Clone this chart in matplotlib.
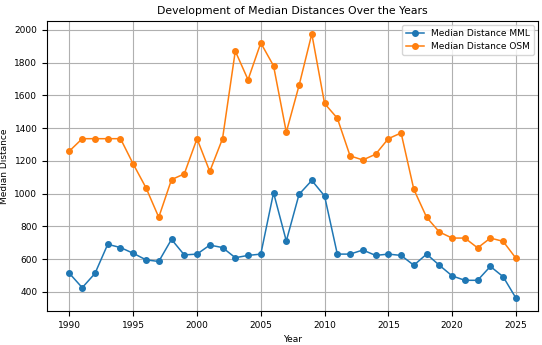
import matplotlib
matplotlib.use("Agg")
import matplotlib.pyplot as plt

years = list(range(1990, 2026))
mml = [512, 425, 512, 690, 670, 635, 595, 585, 720, 625, 630, 685, 670, 608, 622, 630,
       1005, 710, 995, 1080, 985, 630, 630, 655, 622, 630, 622, 562, 630, 562, 497, 470,
       470, 555, 492, 362]
osm = [1260, 1335, 1335, 1335, 1335, 1180, 1035, 855, 1085, 1120, 1335, 1135, 1335, 1870,
       1695, 1920, 1780, 1375, 1660, 1975, 1550, 1460, 1230, 1205, 1240, 1335, 1370, 1025,
       855, 765, 728, 728, 668, 728, 708, 605]

fig, ax = plt.subplots(figsize=(5.42, 3.45), dpi=100)
fs = 6.5
ax.plot(years, mml, marker='o', markersize=4, linewidth=1.1, label='Median Distance MML')
ax.plot(years, osm, marker='o', markersize=4, linewidth=1.1, label='Median Distance OSM')
ax.set_title('Development of Median Distances Over the Years', fontsize=7.8, pad=5)
ax.set_xlabel('Year', fontsize=fs)
ax.set_ylabel('Median Distance', fontsize=fs)
ax.tick_params(labelsize=fs)
ax.grid(True)
ax.legend(fontsize=fs)
fig.subplots_adjust(left=0.087, right=0.993, top=0.94, bottom=0.098)
fig.savefig('out.png', dpi=100)
